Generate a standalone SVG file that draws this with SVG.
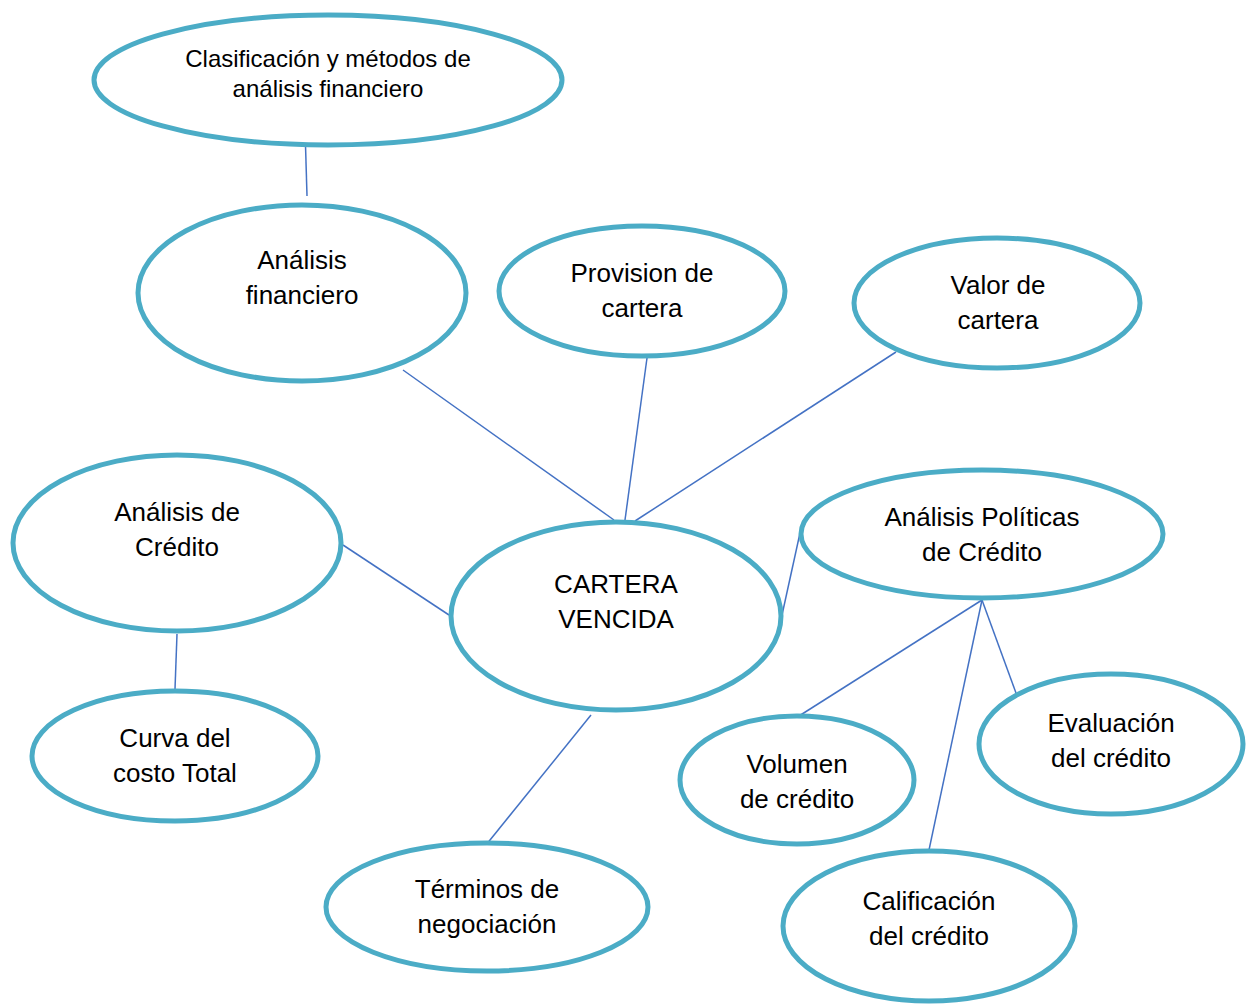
<svg xmlns="http://www.w3.org/2000/svg" width="1252" height="1005" viewBox="0 0 1252 1005">
  <style>
    .node ellipse { fill: #ffffff; stroke: #4bacc6; stroke-width: 5; }
    .node text { font-family: "Liberation Sans", Arial, sans-serif; font-size: 26px; fill: #000000; text-anchor: middle; }
    .node text.small { font-size: 24px; }
    .links line { stroke: #4472c4; stroke-width: 1.5; }
  </style>
  <rect width="1252" height="1005" fill="#ffffff"/>

  <g id="connectors" class="links">
    <line x1="305" y1="128" x2="307" y2="196"/>
    <line x1="403" y1="370" x2="614" y2="520"/>
    <line x1="647" y1="358" x2="625" y2="520"/>
    <line x1="896" y1="352" x2="635" y2="521"/>
    <line x1="343" y1="545" x2="449" y2="615"/>
    <line x1="800" y1="533" x2="782" y2="615"/>
    <line x1="591" y1="715" x2="486" y2="845"/>
    <line x1="982" y1="600" x2="799" y2="716"/>
    <line x1="982" y1="600" x2="929" y2="850"/>
    <line x1="982" y1="600" x2="1016" y2="693"/>
    <line x1="177" y1="634" x2="175" y2="689"/>
  </g>

  <g id="clasificacion" class="node">
    <ellipse cx="328" cy="80" rx="234" ry="65"/>
    <text class="small" x="328" y="67">Clasificación y métodos de</text>
    <text class="small" x="328" y="97">análisis financiero</text>
  </g>

  <g id="analisis-financiero" class="node">
    <ellipse cx="302" cy="293" rx="164" ry="88"/>
    <text x="302" y="269">Análisis</text>
    <text x="302" y="304">financiero</text>
  </g>

  <g id="provision-cartera" class="node">
    <ellipse cx="642" cy="291" rx="143" ry="65"/>
    <text x="642" y="282">Provision de</text>
    <text x="642" y="317">cartera</text>
  </g>

  <g id="valor-cartera" class="node">
    <ellipse cx="997" cy="303" rx="143" ry="65"/>
    <text x="998" y="294">Valor de</text>
    <text x="998" y="329">cartera</text>
  </g>

  <g id="analisis-credito" class="node">
    <ellipse cx="177" cy="543" rx="164" ry="88"/>
    <text x="177" y="521">Análisis de</text>
    <text x="177" y="556">Crédito</text>
  </g>

  <g id="cartera-vencida" class="node">
    <ellipse cx="616" cy="616" rx="165" ry="94"/>
    <text x="616" y="593">CARTERA</text>
    <text x="616" y="628">VENCIDA</text>
  </g>

  <g id="analisis-politicas" class="node">
    <ellipse cx="982" cy="534" rx="181" ry="64"/>
    <text x="982" y="526">Análisis Políticas</text>
    <text x="982" y="561">de Crédito</text>
  </g>

  <g id="curva-costo" class="node">
    <ellipse cx="175" cy="756" rx="143" ry="65"/>
    <text x="175" y="747">Curva del</text>
    <text x="175" y="782">costo Total</text>
  </g>

  <g id="terminos" class="node">
    <ellipse cx="487" cy="907" rx="161" ry="64"/>
    <text x="487" y="898">Términos de</text>
    <text x="487" y="933">negociación</text>
  </g>

  <g id="volumen" class="node">
    <ellipse cx="797" cy="780" rx="117" ry="64"/>
    <text x="797" y="773">Volumen</text>
    <text x="797" y="808">de crédito</text>
  </g>

  <g id="evaluacion" class="node">
    <ellipse cx="1111" cy="744" rx="132" ry="70"/>
    <text x="1111" y="732">Evaluación</text>
    <text x="1111" y="767">del crédito</text>
  </g>

  <g id="calificacion" class="node">
    <ellipse cx="929" cy="926" rx="146" ry="75"/>
    <text x="929" y="910">Calificación</text>
    <text x="929" y="945">del crédito</text>
  </g>
</svg>
